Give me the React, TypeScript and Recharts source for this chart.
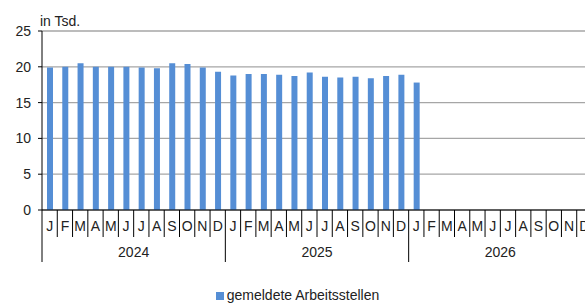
import React from 'react';
import { BarChart, Bar, XAxis, YAxis, CartesianGrid, Legend } from 'recharts';

const monthLetters = ['J', 'F', 'M', 'A', 'M', 'J', 'J', 'A', 'S', 'O', 'N', 'D'];
const years = ['2024', '2025', '2026'];
const values2024 = [19.9, 20.0, 20.5, 20.0, 20.0, 20.0, 19.9, 19.8, 20.5, 20.4, 19.9, 19.3];
const values2025 = [18.8, 19.0, 19.0, 18.9, 18.7, 19.2, 18.6, 18.5, 18.6, 18.4, 18.7, 18.9];
const values2026 = [17.8];
const yTicks = [0, 5, 10, 15, 20, 25];

const SERIES = 'gemeldete Arbeitsstellen';
const FONT = '"Liberation Sans", Arial, sans-serif';
const BLUE = '#558ED5';

const CHART_W = 600;
const CHART_H = 305;
const Y_W = 42;
const RIGHT = 8;
const STEP = (CHART_W - Y_W - RIGHT) / (monthLetters.length * years.length);

// one row per month, empty for months without a value yet
const allValues = [values2024, values2025, values2026];
const data = years.flatMap((year, yi) =>
    monthLetters.map((m, mi) => ({
        month: m,
        year,
        value: allValues[yi][mi] ?? null,
    }))
);

const MonthTick = (props: any) => {
    const { x, y, index } = props;
    const row = data[index];
    const left = x - STEP / 2;
    const isYearStart = index % 12 === 0;
    return (
        <g>
            <line x1={left} x2={left} y1={y} y2={y + (isYearStart ? 52 : 27)} stroke="#000" strokeWidth={1} />
            {index === data.length - 1 && (
                <line x1={x + STEP / 2} x2={x + STEP / 2} y1={y} y2={y + 52} stroke="#000" strokeWidth={1} />
            )}
            <text x={x} y={y + 20.5} textAnchor="middle" fontSize={14} fontFamily={FONT} fill="#222">
                {row.month}
            </text>
            {index % 12 === 6 && (
                <text x={left} y={y + 46.5} textAnchor="middle" fontSize={14} fontFamily={FONT} fill="#222">
                    {row.year}
                </text>
            )}
        </g>
    );
};

const LegendContent = () => (
    <div style={{ textAlign: 'center', fontFamily: FONT, fontSize: 14, color: '#222', lineHeight: '16px' }}>
        <span style={{ display: 'inline-block', width: 8, height: 8, background: BLUE, marginRight: 3 }} />
        <span>{SERIES}</span>
    </div>
);

const App: React.FC = () => {
    return (
        <div style={{ position: 'fixed', left: 0, top: 0, width: 585, height: 305, overflow: 'hidden', background: '#fff' }}>
            <BarChart width={CHART_W} height={CHART_H} data={data} margin={{ top: 31, right: RIGHT, left: 0, bottom: 0 }}>
                <CartesianGrid vertical={false} stroke="#a6a6a6" strokeWidth={1.3} />
                <XAxis
                    dataKey="month"
                    interval={0}
                    height={95}
                    tickSize={0}
                    tickMargin={0}
                    tickLine={false}
                    axisLine={{ stroke: '#000' }}
                    tick={<MonthTick />}
                />
                <YAxis
                    width={Y_W}
                    domain={[0, 25]}
                    ticks={yTicks}
                    interval={0}
                    tickSize={4}
                    tickMargin={7}
                    axisLine={{ stroke: '#000' }}
                    tickLine={{ stroke: '#000' }}
                    tick={{ fontSize: 14, fontFamily: FONT, fill: '#222' }}
                    label={{
                        content: (p: any) => (
                            <text x={p.viewBox.x + p.viewBox.width - 2} y={p.viewBox.y - 5.5} fontSize={14} fontFamily={FONT} fill="#222">
                                in Tsd.
                            </text>
                        ),
                    }}
                />
                <Legend
                    layout="horizontal"
                    verticalAlign="middle"
                    align="center"
                    wrapperStyle={{ top: 287, left: 0, width: 595 }}
                    content={<LegendContent />}
                />
                <Bar dataKey="value" name={SERIES} fill={BLUE} barSize={6} isAnimationActive={false} />
            </BarChart>
        </div>
    );
};

export default App;
